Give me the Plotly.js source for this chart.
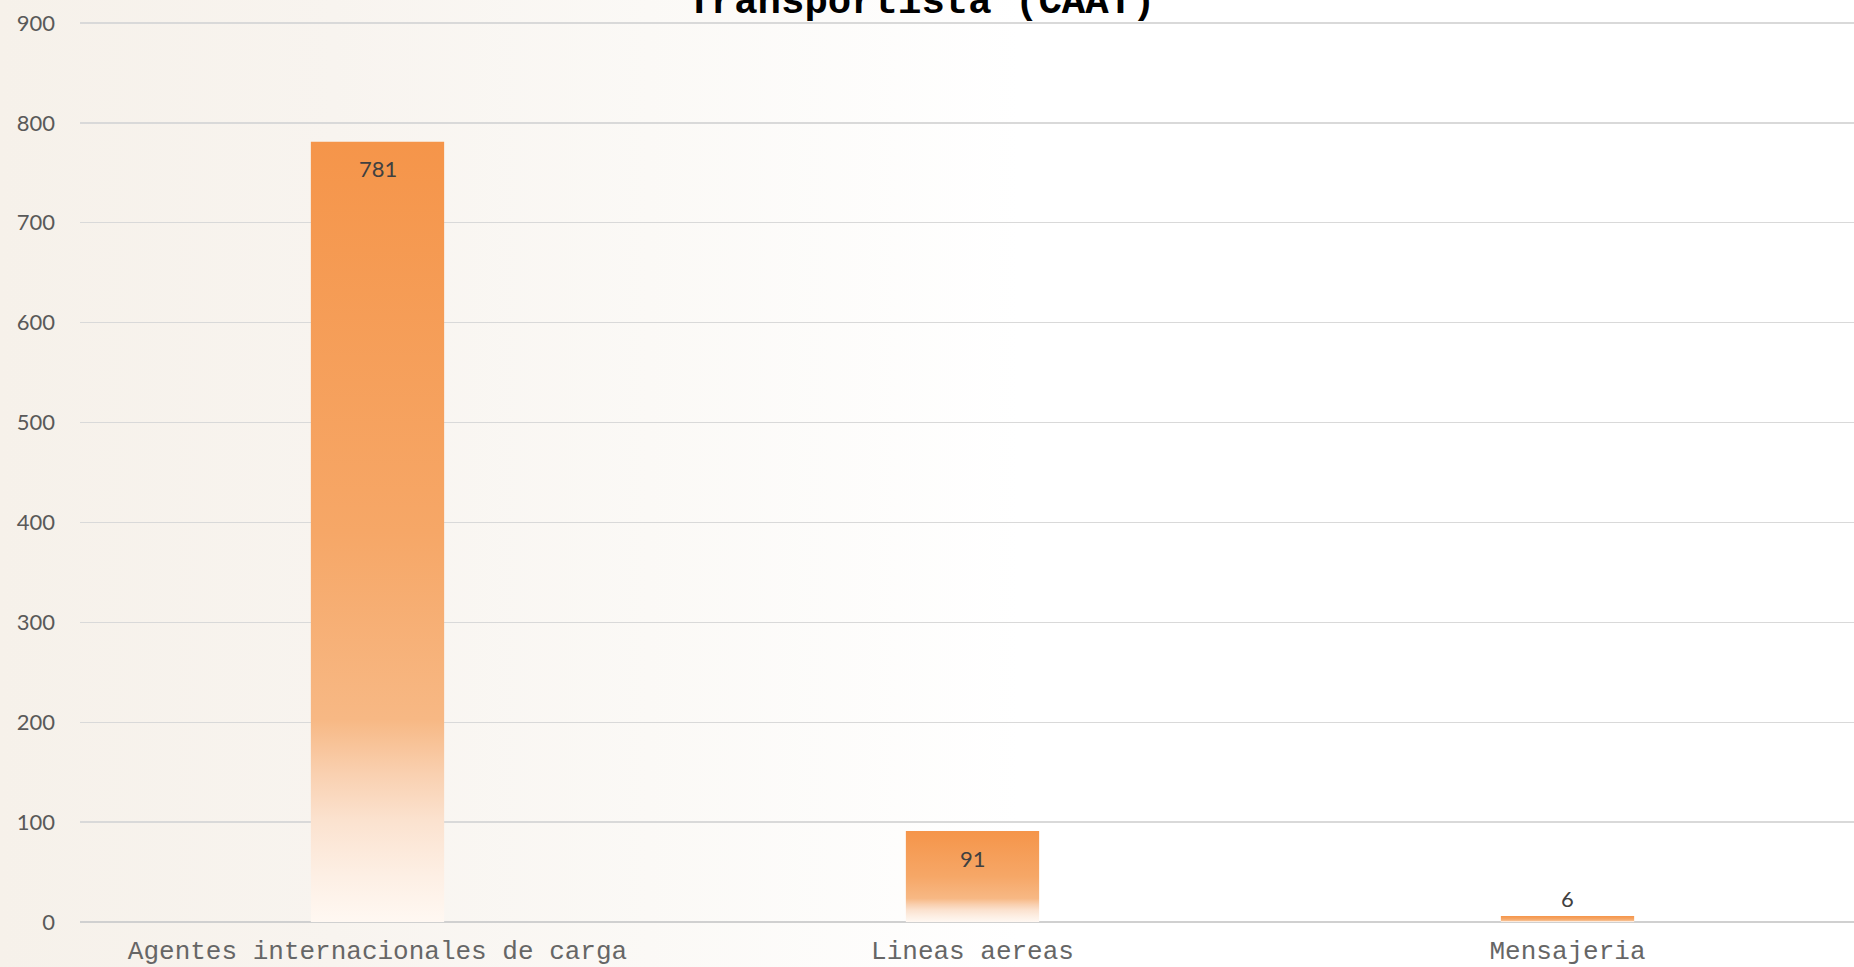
<!DOCTYPE html>
<html>
<head>
<meta charset="utf-8">
<script src="https://cdn.plot.ly/plotly-3.0.1.min.js"></script>
<style>
  html, body { margin: 0; padding: 0; background: #ffffff; }
  #chart {
    width: 1854px; height: 967px;
    background: linear-gradient(90deg, #F6F1EA 0%, #F8F4EF 18%, #FBF9F6 35%, #FFFFFF 55%);
  }
</style>
</head>
<body>
<div id="chart"></div>
<script>
// ---- data ----
const titleText = 'Transportista (CAAT)';
const categories = ['Agentes internacionales de carga', 'Lineas aereas', 'Mensajeria'];
const values = [781, 91, 6];
const labelText = ['781', '91', '6'];
const yTicks = [0, 100, 200, 300, 400, 500, 600, 700, 800, 900];

// ---- styling ----
const barHalfWidth = 0.112;
const gradient = [
  [0.00, '#FFF8F2'],
  [0.06, '#FDEFE4'],
  [0.13, '#FBE2CF'],
  [0.19, '#F9D0B0'],
  [0.26, '#F7B884'],
  [0.50, '#F6A767'],
  [1.00, '#F5954A']
];

const idx = categories.map((c, i) => i);

const traces = values.map((v, i) => ({
  type: 'scatter',
  mode: 'lines',
  x: [i - barHalfWidth, i - barHalfWidth, i + barHalfWidth, i + barHalfWidth, i - barHalfWidth],
  y: [0, v, v, 0, 0],
  fill: 'toself',
  fillgradient: { type: 'vertical', colorscale: gradient },
  line: { width: 0, color: 'rgba(0,0,0,0)' },
  hoverinfo: 'skip',
  showlegend: false
}));

const annotations = values.map((v, i) => ({
  x: i, y: v, xref: 'x', yref: 'y',
  text: labelText[i],
  showarrow: false,
  xanchor: 'center', yanchor: 'middle',
  yshift: v > 50 ? -27 : 18,
  font: { family: 'Lato, sans-serif', size: 22, color: '#404040' }
}));

const layout = {
  width: 1854, height: 967,
  paper_bgcolor: 'rgba(0,0,0,0)',
  plot_bgcolor: 'rgba(0,0,0,0)',
  margin: { l: 80, r: 0, t: 19.5, b: 45 },
  showlegend: false,
  title: {
    text: '<b>' + titleText + '</b>',
    font: { family: '"Liberation Mono", "Courier New", monospace', size: 39, color: '#000000' },
    xref: 'container', yref: 'container',
    x: 0.497, xanchor: 'center',
    y: 1 - 12.5 / 967, yanchor: 'bottom'
  },
  xaxis: {
    type: 'linear',
    range: [-0.5, 2.4815],
    tickmode: 'array',
    tickvals: idx,
    ticktext: categories,
    showgrid: false,
    zeroline: false,
    showline: false,
    ticks: '',
    ticklabelstandoff: 10,
    tickfont: { family: '"Liberation Mono", "Courier New", monospace', size: 26, color: '#666666' },
    fixedrange: true
  },
  yaxis: {
    range: [0, 903],
    tickmode: 'array',
    tickvals: yTicks,
    ticktext: yTicks.map(String),
    showgrid: true,
    gridcolor: '#D9D9D9',
    gridwidth: 1.3,
    zeroline: true,
    zerolinecolor: '#D0D0D0',
    zerolinewidth: 1.5,
    showline: false,
    ticks: '',
    ticklabelstandoff: 24,
    tickfont: { family: 'Lato, sans-serif', size: 22, color: '#595959' },
    fixedrange: true
  },
  annotations: annotations
};

Plotly.newPlot('chart', traces, layout, { displayModeBar: false, staticPlot: true });
</script>
</body>
</html>
